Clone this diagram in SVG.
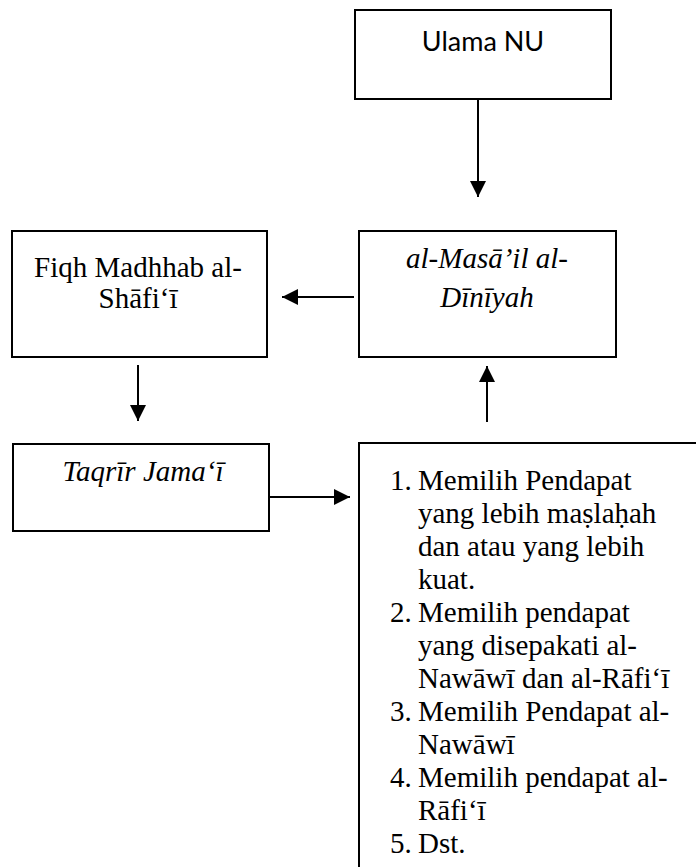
<svg xmlns="http://www.w3.org/2000/svg" width="696" height="867" viewBox="0 0 696 867">
  <style>
    .box { fill: #fff; stroke: #000; stroke-width: 2; }
    .link { stroke: #000; stroke-width: 2; fill: none; }
    .serif { font-family: "Liberation Serif", "Times New Roman", serif; font-size: 29px; fill: #000; }
    .it { font-style: italic; }
    .sans { font-family: Lato, "Liberation Sans", sans-serif; font-size: 27px; fill: #000; }
  </style>
  <defs>
    <marker id="arrow" viewBox="0 0 16 16" refX="16" refY="8" markerWidth="16" markerHeight="16" markerUnits="userSpaceOnUse" orient="auto">
      <path d="M0,0 L16,8 L0,16 Z" fill="#000"/>
    </marker>
  </defs>

  <rect width="696" height="867" fill="#fff"/>

  <g id="ulama-nu">
    <rect class="box" x="355" y="10" width="256" height="89"/>
    <text class="sans" x="483" y="51" text-anchor="middle">Ulama NU</text>
  </g>

  <g id="masail-diniyah">
    <rect class="box" x="359" y="231" width="257" height="126"/>
    <text class="serif it" x="487" y="268" text-anchor="middle">al-Masā’il al-</text>
    <text class="serif it" x="487" y="307" text-anchor="middle">Dīnīyah</text>
  </g>

  <g id="fiqh-madhhab">
    <rect class="box" x="12" y="231" width="255" height="126"/>
    <text class="serif" x="138" y="277" text-anchor="middle">Fiqh Madhhab al-</text>
    <text class="serif" x="138" y="308" text-anchor="middle">Shāfi‘ī</text>
  </g>

  <g id="taqrir-jamai">
    <rect class="box" x="13" y="444" width="256" height="87"/>
    <text class="serif it" x="143" y="481" text-anchor="middle">Taqrīr Jama‘ī</text>
  </g>

  <g id="criteria">
    <rect class="box" x="359" y="443" width="400" height="480"/>
    <g class="serif">
      <text x="390" y="490">1.</text><text x="418" y="490">Memilih Pendapat</text>
      <text x="418" y="523">yang lebih maṣlaḥah</text>
      <text x="418" y="556">dan atau yang lebih</text>
      <text x="418" y="589">kuat.</text>
      <text x="390" y="622">2.</text><text x="418" y="622">Memilih pendapat</text>
      <text x="418" y="655">yang disepakati al-</text>
      <text x="418" y="688">Nawāwī dan al-Rāfi‘ī</text>
      <text x="390" y="721">3.</text><text x="418" y="721">Memilih Pendapat al-</text>
      <text x="418" y="754">Nawāwī</text>
      <text x="390" y="787">4.</text><text x="418" y="787">Memilih pendapat al-</text>
      <text x="418" y="820">Rāfi‘ī</text>
      <text x="390" y="853">5.</text><text x="418" y="853">Dst.</text>
    </g>
  </g>

  <g id="connectors">
    <line class="link" x1="478" y1="99" x2="478" y2="197" marker-end="url(#arrow)"/>
    <line class="link" x1="354" y1="297" x2="282" y2="297" marker-end="url(#arrow)"/>
    <line class="link" x1="138" y1="365" x2="138" y2="421" marker-end="url(#arrow)"/>
    <line class="link" x1="487" y1="422" x2="487" y2="366" marker-end="url(#arrow)"/>
    <line class="link" x1="269" y1="497" x2="350" y2="497" marker-end="url(#arrow)"/>
  </g>
</svg>
